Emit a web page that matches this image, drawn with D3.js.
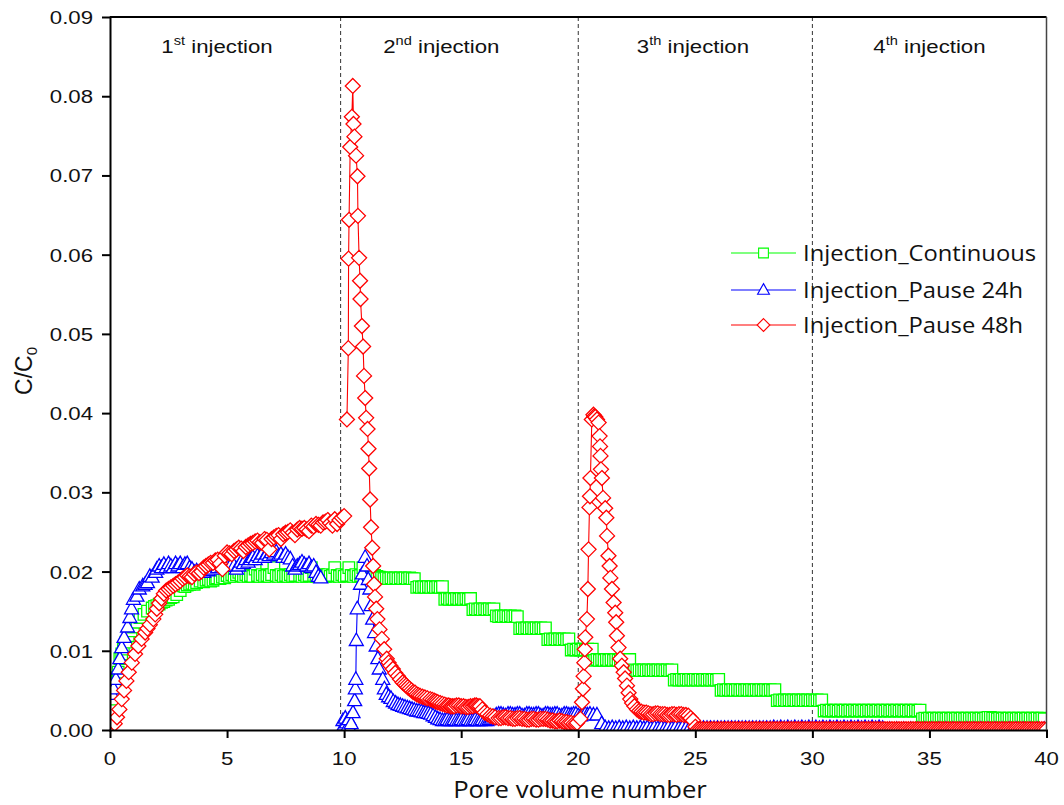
<!DOCTYPE html>
<html><head><meta charset="utf-8">
<script src="https://cdn.jsdelivr.net/npm/d3@7"></script>
<style>body{margin:0;background:#fff;}</style>
</head><body><svg id="c" width="1064" height="805"></svg>
<script>
// ---------------- DATA ----------------
const xTicks = [0,5,10,15,20,25,30,35,40];
const yTicks = [0,0.01,0.02,0.03,0.04,0.05,0.06,0.07,0.08,0.09];
const seriesNames = ["Injection_Continuous","Injection_Pause 24h","Injection_Pause 48h"];
const injectionBounds = [9.85, 20, 30];
const injectionNums = ["1","2","3","4"];
const injectionSups = ["st","nd","th","th"];

const continuousPts = [
[0.0,.0005],[0.05,.0013],[0.07,.0026],[0.15,.0039],[0.2,.0056],[0.3,.0066],[0.35,.0073],[0.42,.009],[0.5,.0096],[0.57,.0102],[0.68,.0111],[0.78,.0119],[0.9,.0125],[1.0,.013],[1.15,.0136],[1.28,.0142],[1.45,.0146],[1.6,.015],[1.8,.0154],[1.9,.0156],[2.0,.0157],[2.1,.0159],[2.2,.0161],[2.3,.0162],[2.4,.0164],[2.5,.0165],[2.6,.0167],[2.7,.0168],[2.85,.0171],[3.0,.0176],[3.13,.0182],[3.2,.0181],[3.3,.0183],[3.4,.0184],[3.5,.0185],[3.6,.0184],[3.7,.0186],[3.85,.0188],[4.0,.0187],[4.1,.0189],[4.2,.019],[4.3,.0188],[4.4,.0189],[4.5,.0191],[4.56,.0192],[4.7,.0191],[4.8,.0193],[4.9,.0192],
[5.0,.0195],[5.1,.0194],[5.2,.0196],[5.3,.0194],[5.4,.0196],[5.5,.0199],[5.6,.0195],[5.7,.0194],[5.8,.0196],[5.9,.0194],[6.0,.0195],[6.1,.0194],[6.2,.0203],[6.3,.0195],[6.4,.0194],[6.5,.0196],[6.6,.0194],[6.7,.0195],[6.8,.0194],[6.9,.0196],[7.0,.0205],[7.1,.0195],[7.2,.0194],[7.3,.0196],[7.4,.0194],[7.5,.0195],[7.6,.0194],[7.7,.0196],[7.8,.0194],[7.9,.0195],
[8.0,.0205],[8.1,.0195],[8.2,.0194],[8.3,.0196],[8.4,.0194],[8.5,.0195],[8.6,.0205],[8.7,.0195],[8.8,.0194],[8.9,.0196],[9.0,.0194],[9.1,.0195],[9.2,.0194],[9.3,.0196],[9.4,.0194],[9.5,.0195],[9.6,.0205],[9.7,.0195],[9.8,.0194],[9.9,.0196],[10.0,.0194],[10.1,.0195],[10.2,.0205],[10.3,.0195],[10.4,.0194],[10.5,.0196],[10.6,.0194],[10.7,.0195],[10.8,.0205],[10.9,.0195],
[11.0,.0194],[11.1,.0196],[11.2,.0194],[11.3,.0195],[11.4,.0194],[11.5,.0193],[11.6,.0192],[11.7,.0191],[11.8,.0192],[11.9,.0191],[12.0,.0192],[12.1,.0191],[12.2,.0192],[12.3,.0191],[12.4,.0192],[12.5,.0191],[12.6,.0192],[12.7,.0191],[12.8,.0192],[12.9,.0191],[13.0,.0191],
[13.1,.018],[13.2,.0181],[13.3,.018],[13.4,.0181],[13.5,.018],[13.6,.0181],[13.7,.018],[13.8,.0181],[13.9,.018],[14.0,.0181],[14.1,.018],[14.2,.0181],
[14.3,.0165],[14.4,.0166],[14.5,.0165],[14.6,.0166],[14.7,.0165],[14.8,.0166],[14.9,.0165],[15.0,.0166],[15.1,.0165],[15.2,.0166],[15.3,.0165],[15.4,.0166],
[15.5,.0152],[15.6,.0153],[15.7,.0152],[15.8,.0153],[15.9,.0152],[16.0,.0153],[16.1,.0152],[16.2,.0153],[16.3,.0152],[16.4,.0153],
[16.5,.0144],[16.6,.0143],[16.7,.0144],[16.8,.0143],[16.9,.0144],[17.0,.0143],[17.1,.0144],[17.2,.0143],[17.3,.0144],[17.4,.0143],
[17.5,.0128],[17.6,.0129],[17.7,.0128],[17.8,.0129],[17.9,.0128],[18.0,.0129],[18.1,.0128],[18.2,.0129],[18.3,.0128],[18.4,.0129],[18.5,.0128],[18.6,.0129],
[18.7,.0114],[18.8,.0115],[18.9,.0114],[19.0,.0115],[19.1,.0114],[19.2,.0115],[19.3,.0114],[19.4,.0115],[19.5,.0114],[19.6,.0115],
[19.7,.0101],[19.8,.0102],[19.9,.0101],[20.0,.0102],[20.1,.0101],[20.2,.0102],[20.3,.0101],[20.4,.0102],[20.5,.0101],[20.6,.0102],
[20.7,.0088],[20.8,.0089],[20.9,.0088],[21.0,.0089],[21.1,.0088],[21.2,.0089],[21.3,.0088],[21.4,.0089],[21.5,.0088],[21.6,.0089],[21.7,.0088],[21.8,.0089],[21.9,.0088],[22.0,.0089],[22.1,.0088],[22.2,.0089],
[22.3,.0075],[22.4,.0076],[22.5,.0075],[22.6,.0076],[22.7,.0075],[22.8,.0076],[22.9,.0075],[23.0,.0076],[23.1,.0075],[23.2,.0076],[23.3,.0075],[23.4,.0076],[23.5,.0075],[23.6,.0076],[23.7,.0075],[23.8,.0076],[23.9,.0075],[24.0,.0076],
[24.1,.0063],[24.2,.0064],[24.3,.0063],[24.4,.0064],[24.5,.0063],[24.6,.0064],[24.7,.0063],[24.8,.0064],[24.9,.0063],[25.0,.0064],[25.1,.0063],[25.2,.0064],[25.3,.0063],[25.4,.0064],[25.5,.0063],[25.6,.0064],[25.7,.0063],[25.8,.0064],[25.9,.0063],[26.0,.0064],
[26.1,.005],[26.2,.0051],[26.3,.005],[26.4,.0051],[26.5,.005],[26.6,.0051],[26.7,.005],[26.8,.0051],[26.9,.005],[27.0,.0051],[27.1,.005],[27.2,.0051],[27.3,.005],[27.4,.0051],[27.5,.005],[27.6,.0051],[27.7,.005],[27.8,.0051],[27.9,.005],[28.0,.0051],[28.1,.005],[28.2,.0051],[28.3,.005],[28.4,.0051],
[28.5,.0037],[28.6,.0038],[28.7,.0037],[28.8,.0038],[28.9,.0037],[29.0,.0038],[29.1,.0037],[29.2,.0038],[29.3,.0037],[29.4,.0038],[29.5,.0037],[29.6,.0038],[29.7,.0037],[29.8,.0038],[29.9,.0037],[30.0,.0038],[30.1,.0037],[30.2,.0038],[30.3,.0037],[30.4,.0038],
[30.5,.0024],[30.6,.0025],[30.7,.0024],[30.8,.0025],[30.9,.0024],[31.0,.0025],[31.1,.0024],[31.2,.0025],[31.3,.0024],[31.4,.0025],[31.5,.0024],[31.6,.0025],[31.7,.0024],[31.8,.0025],[31.9,.0024],[32.0,.0025],[32.1,.0024],[32.2,.0025],[32.3,.0024],[32.4,.0025],[32.5,.0024],[32.6,.0025],[32.7,.0024],[32.8,.0025],[32.9,.0024],[33.0,.0025],[33.1,.0024],[33.2,.0025],[33.3,.0024],[33.4,.0025],[33.5,.0024],[33.6,.0025],[33.7,.0024],[33.8,.0025],[33.9,.0024],[34.0,.0025],[34.1,.0024],[34.2,.0025],[34.3,.0024],[34.4,.0025],[34.5,.0024],[34.6,.0025],
[34.7,.0014],[34.8,.0015],[34.9,.0014],[35.0,.0015],[35.1,.0014],[35.2,.0015],[35.3,.0014],[35.4,.0015],[35.5,.0014],[35.6,.0015],[35.7,.0014],[35.8,.0015],[35.9,.0014],[36.0,.0015],[36.1,.0014],[36.2,.0015],[36.3,.0014],[36.4,.0015],[36.5,.0014],[36.6,.0015],[36.7,.0014],[36.8,.0015],[36.9,.0014],[37.0,.0015],[37.1,.0014],[37.2,.0015],[37.3,.0014],[37.4,.0015],[37.5,.0016],[37.6,.0016],[37.7,.0015],[37.8,.0015],[37.9,.0014],[38.0,.0015],[38.1,.0014],[38.2,.0015],[38.3,.0014],[38.4,.0015],[38.5,.0014],[38.6,.0015],[38.7,.0014],[38.8,.0015],[38.9,.0014],[39.0,.0015],[39.1,.0014],[39.2,.0015],[39.3,.0014],[39.4,.0015],[39.5,.0014],[39.6,.0015],[39.7,.0014],[39.8,.0015],[39.9,.0014]
];

const pause24Seg1 = [
[0.1,.0045],[0.15,.0052],[0.25,.0064],[0.35,.0077],[0.42,.009],[0.5,.0104],[0.6,.0117],[0.75,.013],[0.85,.0142],[0.92,.0153],[1.0,.0165],[1.15,.0169],[1.25,.0178],[1.4,.0182],[1.5,.0184],[1.6,.0186],[1.7,.0194],[1.8,.0193],[1.95,.0199],
[2.0,.0203],[2.1,.0207],[2.2,.0205],[2.3,.0209],[2.4,.0205],[2.5,.021],[2.6,.0207],[2.7,.0205],[2.8,.021],[2.9,.0207],[3.0,.021],[3.1,.0205],[3.2,.0209],[3.3,.021],[3.4,.0205],[3.5,.0203],[3.6,.0199],[3.7,.0201],[3.8,.0199],[3.9,.0201],
[4.0,.0199],[4.1,.0203],[4.2,.0201],[4.3,.0205],[4.4,.0203],[4.5,.0207],[4.6,.0205],[4.7,.0209],[4.8,.0207],[4.9,.021],[5.0,.0207],[5.1,.0209],[5.2,.021],[5.3,.0207],[5.4,.0203],[5.5,.0207],[5.6,.0212],[5.7,.021],[5.8,.0215],[5.9,.0212],
[6.0,.0215],[6.1,.0218],[6.2,.0215],[6.3,.022],[6.4,.0218],[6.5,.0222],[6.6,.0218],[6.7,.0222],[6.8,.022],[6.9,.0224],[7.0,.0222],[7.1,.0225],[7.2,.022],[7.3,.0222],[7.4,.0218],[7.5,.0222],[7.6,.0218],[7.7,.0216],[7.8,.0207],[7.9,.0203],
[8.0,.0207],[8.1,.0209],[8.2,.0212],[8.3,.0209],[8.4,.0207],[8.5,.021],[8.6,.0205],[8.7,.0207],[8.8,.0199],[8.9,.0194],[9.0,.0192]
];
const pause24Seg2 = [
[9.95,.0012],[10.0,.0006],[10.05,.0015],[10.1,.0009],[10.15,.0004],[10.2,.0013],[10.25,.0002],[10.3,.0008],[10.38,.0022],[10.45,.0037],[10.48,.0052],[10.5,.0064],[10.52,.0113],[10.56,.0153],[10.7,.0184],[10.78,.0197],[10.9,.0218],[10.98,.0207],[11.03,.019],[11.1,.0178],[11.15,.0157],[11.22,.014],[11.3,.0123],[11.37,.0106],[11.44,.009],[11.5,.0077],[11.65,.0064],[11.72,.0052],[11.8,.0045],[11.9,.0042],[12.0,.004],[12.1,.0036],[12.2,.0034],[12.3,.0032],[12.4,.0031],[12.5,.003],[12.6,.0029],[12.7,.0028],[12.8,.0027],[12.9,.0026],[13.0,.0025],[13.1,.0024],[13.2,.0024],[13.3,.0023],[13.4,.0022],[13.5,.0022],[13.6,.0021],[13.7,.002],[13.8,.0018],[13.9,.0016],[14.0,.0014],[14.1,.0013],[14.2,.0012],[14.3,.0012],[14.4,.0013],[14.5,.0012],[14.6,.0012],[14.7,.0013],[14.8,.0012],[14.9,.0012],[15.0,.0013],[15.1,.0012],[15.2,.0012],[15.3,.0013],[15.4,.0012],[15.5,.0012],[15.6,.0013],[15.7,.0012],[15.8,.0012],[15.9,.0013],[16.0,.0012],[16.1,.0012],[16.2,.0013],[16.3,.0015],[16.4,.0017],
[16.5,.0019],[16.6,.002],[16.7,.002],[16.8,.0019],[16.9,.0018],[17.0,.002],[17.1,.002],[17.2,.0019],[17.3,.0019],[17.4,.002],[17.5,.002],[17.6,.0018],[17.7,.0018],[17.8,.002],[17.9,.002],[18.0,.0019],[18.1,.0019],[18.2,.002],[18.3,.002],[18.4,.0018],[18.5,.0018],[18.6,.002],[18.7,.002],[18.8,.0019],[18.9,.0019],[19.0,.002],[19.1,.002],[19.2,.0018],[19.3,.0018],[19.4,.002],[19.5,.002],[19.6,.0019],[19.7,.0019],[19.8,.002],[19.9,.002],[20.0,.0018],[20.1,.0018],[20.2,.002],[20.3,.002],[20.4,.0019],[20.5,.002],[20.65,.0019],[20.8,.0019],[21.0,.0008],
[21.15,.0003],[21.3,.0002],[21.45,.0003],[21.6,.0002],[21.75,.0003],[21.9,.0002],[22.05,.0003],[22.2,.0002],[22.35,.0003],[22.5,.0002],[22.65,.0003],[22.8,.0002],[22.95,.0003],[23.1,.0002],[23.25,.0003],[23.4,.0002],[23.55,.0003],[23.7,.0002],[23.85,.0003],[24.0,.0002],[24.15,.0003],[24.3,.0002],[24.45,.0003],[24.6,.0002],[24.75,.0002],[24.9,.0002],[25.05,.0002],[25.2,.0002],[25.35,.0002],[25.5,.0002],[25.65,.0002],[25.8,.0002],[25.95,.0002],[26.1,.0002],[26.25,.0002],[26.4,.0002],[26.55,.0002],[26.7,.0002],[26.85,.0002],[27.0,.0002],[27.15,.0002],[27.3,.0002],[27.45,.0002],[27.6,.0002],[27.75,.0002],[27.9,.0002],[28.05,.0002],[28.2,.0002],[28.35,.0003],[28.5,.0002],[28.65,.0003],[28.8,.0002],[28.95,.0003],[29.1,.0002],[29.25,.0003],[29.4,.0002],[29.55,.0003],[29.7,.0002],[29.85,.0003],[30.0,.0002],[30.15,.0003],[30.3,.0002],[30.45,.0003],[30.6,.0002],[30.75,.0003],[30.9,.0002],[31.05,.0003],[31.2,.0002],[31.35,.0003],[31.5,.0002],[31.65,.0003],[31.8,.0002],[31.95,.0003],[32.1,.0002],[32.25,.0003],[32.4,.0002],[32.55,.0003],[32.7,.0002],[32.85,.0003],[33.0,.0002],
[33.3,.0001],[33.6,.0001],[33.9,.0001],[34.2,.0001],[34.5,.0001],[34.8,.0001],[35.1,.0001],[35.4,.0001],[35.7,.0001],[36.0,.0001],[36.3,.0001],[36.6,.0001],[36.9,.0001],[37.2,.0001],[37.5,.0001],[37.8,.0001],[38.1,.0001],[38.4,.0001],[38.7,.0001],[39.0,.0001],[39.3,.0001],[39.6,.0001],[39.9,.0001]
];

const pause48Seg1 = [
[0.2,.0008],[0.3,.0016],[0.4,.0026],[0.5,.0039],[0.6,.005],[0.7,.0062],[0.8,.0073],[0.93,.0085],[1.07,.0096],[1.21,.0106],[1.35,.0115],[1.5,.0123],[1.6,.0128],[1.7,.0133],[1.85,.014],[1.93,.0146],
[2.0,.0153],[2.1,.016],[2.2,.0166],[2.3,.0172],[2.4,.0176],[2.5,.0178],[2.6,.018],[2.7,.0182],[2.8,.0184],[2.9,.0186],[3.0,.0188],[3.1,.0191],[3.2,.0193],[3.3,.0195],[3.4,.0194],[3.5,.0193],[3.6,.0197],[3.7,.0199],[3.8,.0198],[3.9,.02],
[4.0,.0205],[4.1,.0207],[4.2,.0209],[4.3,.0211],[4.4,.0211],[4.5,.0214],[4.6,.0215],[4.7,.021],[4.8,.0203],[4.9,.022],[5.0,.0224],[5.1,.0223],[5.2,.0222],[5.3,.0226],[5.4,.0228],[5.5,.023],[5.6,.0229],[5.7,.0226],[5.8,.0231],[5.9,.0233],
[6.0,.0235],[6.1,.0236],[6.2,.0238],[6.3,.0239],[6.4,.0237],[6.5,.0236],[6.6,.0241],[6.7,.024],[6.8,.0228],[6.9,.0241],[7.0,.0243],[7.1,.0245],[7.2,.0246],[7.3,.0241],[7.4,.0247],[7.5,.0249],[7.6,.025],[7.7,.0252],[7.8,.0249],[7.9,.0246],
[8.0,.0253],[8.1,.0255],[8.2,.0254],[8.3,.0255],[8.4,.0253],[8.5,.0251],[8.6,.0258],[8.7,.0257],[8.8,.026],[8.9,.0259],[9.0,.0258],[9.1,.0262],[9.2,.0263],[9.3,.0265],[9.4,.0261],[9.5,.0258],[9.6,.0266],[9.7,.026],[9.8,.0265],[9.9,.0268],[10.0,.027]
];
const pause48Seg2 = [
[10.12,.0392],[10.18,.0482],[10.19,.0595],[10.21,.0644],[10.26,.0736],[10.33,.0774],[10.37,.0813],[10.40,.0765],[10.44,.0749],[10.51,.0725],[10.57,.0699],[10.59,.0649],[10.64,.0596],[10.68,.0567],[10.7,.0544],[10.76,.051],[10.81,.0484],[10.85,.0447],[10.9,.0419],[10.94,.0394],[11.0,.038],[11.04,.0355],[11.07,.033],[11.11,.0291],[11.15,.0256],[11.2,.023],[11.24,.0207],[11.28,.0184],[11.32,.0168],[11.37,.0153],[11.42,.014],[11.51,.0127],[11.61,.0115],[11.71,.0102],[11.82,.009],[11.9,.0085],[11.97,.0081],[12.08,.0077],[12.18,.0072],[12.3,.0068],[12.39,.0064],[12.5,.006],[12.58,.0058],[12.65,.0056],[12.72,.0054],[12.8,.0052],[12.88,.005],[12.95,.0048],[13.03,.0047],[13.1,.0045],[13.18,.0044],[13.25,.0043],[13.35,.0042],[13.45,.0041],[13.55,.004],[13.68,.0039],[13.77,.0038],[13.85,.0037],[13.92,.0036],[14.0,.0035],[14.1,.0034],[14.2,.0033],[14.3,.0032],[14.39,.0031],[14.47,.0031],[14.55,.003],[14.62,.003],[14.7,.003],[14.8,.0031],[14.9,.0031],[15.0,.003],[15.1,.003],[15.2,.0029],[15.3,.0029],[15.4,.003],[15.5,.003],[15.58,.0031],[15.65,.0031],[15.72,.003],[15.8,.003],[15.9,.0026],[16.0,.0022],[16.12,.002],[16.24,.0018],[16.35,.0017],[16.45,.0016],[16.6,.0015],[16.7,.0015],[16.8,.0016],[16.9,.0016],[17.0,.0015],[17.1,.0015],[17.2,.0014],[17.3,.0014],[17.4,.0015],[17.5,.0015],[17.6,.0014],[17.7,.0014],[17.8,.0013],[17.9,.0013],[18.0,.0014],[18.1,.0014],[18.2,.0013],[18.3,.0013],[18.4,.0014],[18.5,.0014],[18.6,.0014],[18.7,.0013],[18.8,.0012],[18.9,.0012],[19.0,.0011],[19.1,.0011],[19.2,.0012],[19.3,.0011],[19.4,.001],[19.5,.001],[19.6,.0009],[19.7,.0009],[19.8,.0008],[19.9,.0008],[19.95,.0009]
];
const pause48Seg3 = [
[20.09,.0014],[20.16,.0035],[20.2,.0052],[20.23,.0068],[20.26,.0085],[20.28,.0102],[20.3,.0117],[20.37,.014],[20.41,.0178],[20.44,.0228],[20.48,.0281],[20.5,.0295],[20.52,.0318],[20.58,.0392],[20.65,.0398],[20.69,.0396],[20.73,.0395],[20.8,.0392],[20.87,.0388],[20.91,.0371],[20.93,.0358],[20.95,.0346],[20.97,.0329],[21.01,.0318],[21.06,.0293],[21.15,.028],[21.2,.0268],[21.23,.0245],[21.29,.022],[21.34,.0207],[21.37,.0192],[21.44,.0178],[21.51,.0161],[21.58,.0148],[21.62,.0136],[21.65,.0119],[21.72,.0104],[21.79,.009],[21.86,.0081],[21.94,.0073],[22.0,.0065],[22.08,.0056],[22.15,.0047],[22.22,.0039],[22.3,.0034],[22.4,.003],[22.51,.0026],[22.6,.0024],[22.7,.0023],[22.8,.0022],[22.9,.0022],[23.0,.0021],[23.1,.002],[23.2,.002],[23.3,.0021],[23.4,.0021],[23.5,.002],[23.6,.002],[23.7,.002],[23.8,.0019],[23.9,.0019],[24.0,.002],[24.1,.002],[24.2,.0019],[24.3,.002],[24.4,.002],[24.5,.0019],[24.6,.0019],[24.7,.0018],[24.8,.0015],[24.9,.0012],[25.0,.0004],
[25.1,.0001],[25.2,.0001],[25.3,.0001],[25.4,.0001],[25.5,.0001],[25.6,.0001],[25.7,.0001],[25.8,.0001],[25.9,.0001],[26.0,.0001],[26.1,.0001],[26.2,.0001],[26.3,.0001],[26.4,.0001],[26.5,.0001],[26.6,.0001],[26.7,.0001],[26.8,.0001],[26.9,.0001],[27.0,.0001],[27.1,.0001],[27.2,.0001],[27.3,.0001],[27.4,.0001],[27.5,.0001],[27.6,.0001],[27.7,.0001],[27.8,.0001],[27.9,.0001],[28.0,.0001],[28.1,.0001],[28.2,.0001],[28.3,.0001],[28.4,.0001],[28.5,.0001],[28.6,.0001],[28.7,.0001],[28.8,.0001],[28.9,.0001],[29.0,.0001],[29.1,.0001],[29.2,.0001],[29.3,.0001],[29.4,.0001],[29.5,.0001],[29.6,.0001],[29.7,.0001],[29.8,.0001],[29.9,.0001],[30.0,.0001],
[30.1,.0001],[30.2,.0001],[30.3,.0001],[30.4,.0001],[30.5,.0001],[30.6,.0001],[30.7,.0001],[30.8,.0001],[30.9,.0001],[31.0,.0001],[31.1,.0001],[31.2,.0001],[31.3,.0001],[31.4,.0001],[31.5,.0001],[31.6,.0001],[31.7,.0001],[31.8,.0001],[31.9,.0001],[32.0,.0001],[32.1,.0001],[32.2,.0001],[32.3,.0001],[32.4,.0001],[32.5,.0001],[32.6,.0001],[32.7,.0001],[32.8,.0001],[32.9,.0001],[33.0,.0001],[33.1,.0001],[33.2,.0001],[33.3,.0001],[33.4,.0001],[33.5,.0001],[33.6,.0001],[33.7,.0001],[33.8,.0001],[33.9,.0001],[34.0,.0001],[34.1,.0001],[34.2,.0001],[34.3,.0001],[34.4,.0001],[34.5,.0001],[34.6,.0001],[34.7,.0001],[34.8,.0001],[34.9,.0001],[35.0,.0001],
[35.1,.0001],[35.2,.0001],[35.3,.0001],[35.4,.0001],[35.5,.0001],[35.6,.0001],[35.7,.0001],[35.8,.0001],[35.9,.0001],[36.0,.0001],[36.1,.0001],[36.2,.0001],[36.3,.0001],[36.4,.0001],[36.5,.0001],[36.6,.0001],[36.7,.0001],[36.8,.0001],[36.9,.0001],[37.0,.0001],[37.1,.0001],[37.2,.0001],[37.3,.0001],[37.4,.0001],[37.5,.0001],[37.6,.0001],[37.7,.0001],[37.8,.0001],[37.9,.0001],[38.0,.0001],[38.1,.0001],[38.2,.0001],[38.3,.0001],[38.4,.0001],[38.5,.0001],[38.6,.0001],[38.7,.0001],[38.8,.0001],[38.9,.0001],[39.0,.0001],[39.1,.0001],[39.2,.0001],[39.3,.0001],[39.4,.0001],[39.5,.0001],[39.6,.0001],[39.7,.0001],[39.8,.0001],[39.9,.0001],[40.0,.0001]
];

// ---------------- LAYOUT / STYLE ----------------
const L = {x0:110, x1:1046.5, y0:730, y1:17};
const colors = ["#00ff00","#0000ff","#ff0000"];
const shapes = {
  square: "M-5.75,-5.75h11.5v11.5h-11.5z",
  triangle: "M0,-7.5L7,5L-7,5Z",
  diamond: "M0,-7.5L7.5,0L0,7.5L-7.5,0Z"
};
const series = [
  {name:seriesNames[0], color:colors[0], shape:shapes.square, segs:[continuousPts]},
  {name:seriesNames[1], color:colors[1], shape:shapes.triangle, segs:[pause24Seg1, pause24Seg2]},
  {name:seriesNames[2], color:colors[2], shape:shapes.diamond, segs:[pause48Seg1, pause48Seg2, pause48Seg3]}
];
const SX = 1.17; // horizontal stretch of text in reference
const sans = "'Liberation Sans', Arial, sans-serif";
const hum = "'Open Sans', sans-serif";

const svg = d3.select("#c");
const x = d3.scaleLinear().domain([0,40]).range([L.x0, L.x1]);
const y = d3.scaleLinear().domain([0,0.09]).range([L.y0, L.y1]);

svg.append("defs").append("clipPath").attr("id","clip")
  .append("rect").attr("x",L.x0).attr("y",L.y1).attr("width",L.x1-L.x0).attr("height",L.y0-L.y1);

// dashed boundaries
svg.append("g").selectAll("line").data(injectionBounds).join("line")
  .attr("x1",d=>x(d)).attr("x2",d=>x(d)).attr("y1",L.y1).attr("y2",L.y0)
  .attr("stroke","#333").attr("stroke-width",1).attr("stroke-dasharray","4,3");

// data
const plot = svg.append("g").attr("clip-path","url(#clip)");
const line = d3.line().x(d=>x(d[0])).y(d=>y(d[1]));
series.forEach(s=>{
  const g = plot.append("g");
  s.segs.forEach(seg=>{
    g.append("path").attr("d",line(seg)).attr("fill","none").attr("stroke",s.color).attr("stroke-width",1.1);
  });
  s.segs.forEach(seg=>{
    g.selectAll(null).data(seg).join("path")
      .attr("d",s.shape).attr("transform",d=>`translate(${x(d[0])},${y(d[1])})`)
      .attr("fill","#fff").attr("stroke",s.color).attr("stroke-width",1.3);
  });
});

// axes
const xAxis = svg.append("g").attr("transform",`translate(0,${L.y0})`)
  .call(d3.axisBottom(x).tickValues(xTicks).tickSize(8).tickSizeOuter(0).tickFormat(""));
const yAxis = svg.append("g").attr("transform",`translate(${L.x0},0)`)
  .call(d3.axisLeft(y).tickValues(yTicks).tickSize(8).tickSizeOuter(0).tickFormat(""));
[xAxis,yAxis].forEach(a=>{
  a.select(".domain").attr("stroke","#000").attr("stroke-width",2).attr("stroke-linecap","square");
  a.selectAll(".tick line").attr("stroke","#000").attr("stroke-width",2);
});
// frame top & right
svg.append("line").attr("x1",L.x0).attr("x2",L.x1).attr("y1",L.y1).attr("y2",L.y1).attr("stroke","#000").attr("stroke-width",2);
svg.append("line").attr("x1",L.x1).attr("x2",L.x1).attr("y1",L.y1).attr("y2",L.y0).attr("stroke","#444").attr("stroke-width",1.5);

// tick labels
const fmt = d3.format(".2f");
svg.append("g").selectAll("text").data(xTicks).join("text")
  .attr("transform",d=>`translate(${x(d)},765) scale(${SX},1)`)
  .attr("text-anchor","middle").attr("font-family",sans).attr("font-size",19).attr("fill","#111").text(d=>d);
svg.append("g").selectAll("text").data(yTicks).join("text")
  .attr("transform",d=>`translate(93,${y(d)+7}) scale(${SX},1)`)
  .attr("text-anchor","end").attr("font-family",sans).attr("font-size",19).attr("fill","#111").text(d=>fmt(d));

// axis titles
svg.append("text").attr("transform",`translate(580,798) scale(1.07,1)`).attr("text-anchor","middle")
  .attr("font-family",hum).attr("font-size",24).attr("fill","#111").text("Pore volume number");
const yl = svg.append("text").attr("transform","translate(32,371) rotate(-90)").attr("text-anchor","middle")
  .attr("font-family",sans).attr("font-size",23).attr("fill","#111");
yl.append("tspan").text("C/C");
yl.append("tspan").attr("font-size",15).attr("dy",5).text("0");

// injection labels
const injCenters = [4.57, 14.15, 24.9, 35.0];
injectionNums.forEach((n,i)=>{
  const t = svg.append("text").attr("transform",`translate(${x(injCenters[i])},53) scale(${SX},1)`)
    .attr("text-anchor","middle").attr("font-family",sans).attr("font-size",19).attr("fill","#111");
  t.append("tspan").text(n);
  t.append("tspan").attr("font-size",12.5).attr("dy",-8).text(injectionSups[i]);
  t.append("tspan").attr("dy",8).text(" injection");
});

// legend
const legRows = [253, 290, 325];
series.forEach((s,i)=>{
  const g = svg.append("g").attr("transform",`translate(0,${legRows[i]})`);
  g.append("line").attr("x1",731).attr("x2",796).attr("stroke",s.color).attr("stroke-width",1.2);
  g.append("path").attr("d",s.shape).attr("transform",`translate(763.5,0) scale(0.85)`)
    .attr("fill","#fff").attr("stroke",s.color).attr("stroke-width",1.3);
  g.append("text").attr("transform",`translate(803,8) scale(1.08,1)`).attr("font-family",hum).attr("font-size",22).attr("fill","#111").text(s.name);
});
</script>
</body></html>
